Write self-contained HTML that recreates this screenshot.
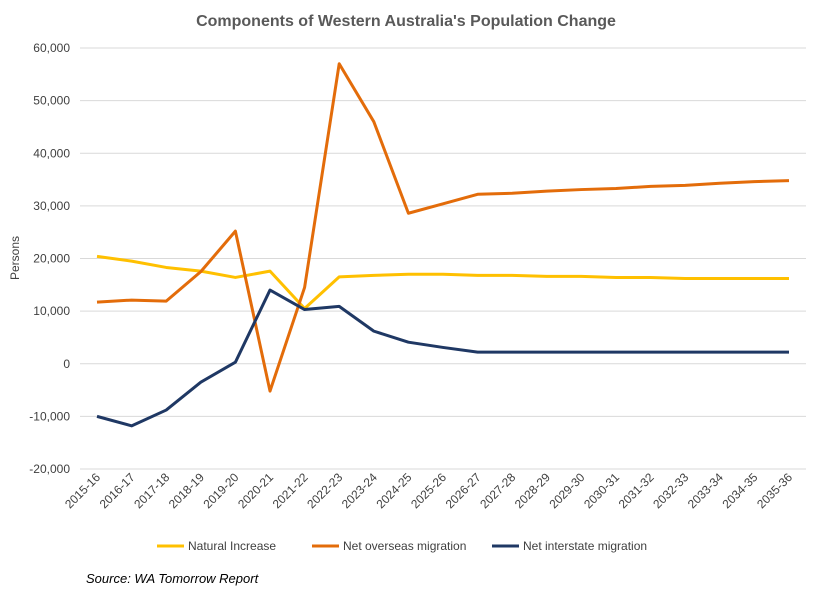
<!DOCTYPE html>
<html><head><meta charset="utf-8"><style>
body{margin:0;background:#fff;font-family:"Liberation Sans",sans-serif;}
</style></head><body>
<svg id="chart" width="813" height="592" xmlns="http://www.w3.org/2000/svg">
<text x="406" y="26" text-anchor="middle" font-size="16" font-weight="bold" fill="#595959">Components of Western Australia's Population Change</text>
<text x="19" y="258" text-anchor="middle" font-size="12" fill="#404040" transform="rotate(-90 19 258)">Persons</text>
<g id="grid"></g><g id="yticks"></g><g id="xticks"></g><g id="series"></g>
<g>
<g><line x1="157" y1="546" x2="184" y2="546" stroke="#FFC000" stroke-width="3"/><text x="188" y="550" font-size="12" fill="#404040">Natural Increase</text></g>
<g><line x1="312" y1="546" x2="339" y2="546" stroke="#E36C0A" stroke-width="3"/><text x="343" y="550" font-size="12" fill="#404040">Net overseas migration</text></g>
<g><line x1="492" y1="546" x2="519" y2="546" stroke="#1F3864" stroke-width="3"/><text x="523" y="550" font-size="12" fill="#404040">Net interstate migration</text></g>
</g>
<text x="86" y="583" font-size="13" font-style="italic" fill="#000">Source: WA Tomorrow Report</text>
</svg>
<script>
const categories=["2015-16","2016-17","2017-18","2018-19","2019-20","2020-21","2021-22","2022-23","2023-24","2024-25","2025-26","2026-27","2027-28","2028-29","2029-30","2030-31","2031-32","2032-33","2033-34","2034-35","2035-36"];
const naturalIncrease=[20400,19500,18300,17600,16400,17600,10500,16500,16800,17000,17000,16800,16800,16600,16600,16400,16400,16200,16200,16200,16200];
const overseas=[11700,12100,11900,17500,25200,-5200,14500,57000,46000,28600,30400,32200,32400,32800,33100,33300,33700,33900,34300,34600,34800];
const interstate=[-10000,-11800,-8800,-3500,300,14000,10300,10900,6200,4100,3100,2200,2200,2200,2200,2200,2200,2200,2200,2200,2200];
const yTicks=[-20000,-10000,0,10000,20000,30000,40000,50000,60000];
const NS="http://www.w3.org/2000/svg";
const L=80,R=806,T=48,B=469,yMin=-20000,yMax=60000;
const x0=97,x1=789;
function xs(i){return x0+(x1-x0)*i/(categories.length-1);}
function ys(v){return B-(v-yMin)/(yMax-yMin)*(B-T);}
function mk(t,a,p){const e=document.createElementNS(NS,t);for(const k in a)e.setAttribute(k,a[k]);p.appendChild(e);return e;}
const grid=document.getElementById('grid'),yt=document.getElementById('yticks'),xt=document.getElementById('xticks'),sg=document.getElementById('series');
yTicks.forEach(v=>{
 const g=mk('line',{x1:L,x2:R,y1:ys(v),y2:ys(v),stroke:v===0?'#d9d9d9':'#d9d9d9','stroke-width':1},grid);
 
 
 const t=mk('text',{x:70,y:ys(v)+4,'text-anchor':'end','font-size':12,fill:'#404040'},yt);
 t.textContent=v.toLocaleString('en-US');
 
 
});
categories.forEach((c,i)=>{
 const x=xs(i);
 const t=mk('text',{x:x+4,y:478,'text-anchor':'end','font-size':12,fill:'#404040',transform:`rotate(-45 ${x+4} 478)`},xt);
 t.textContent=c;
 
 
});
[[naturalIncrease,'#FFC000','natural-increase-line'],[overseas,'#E36C0A','net-overseas-migration-line'],[interstate,'#1F3864','net-interstate-migration-line']].forEach(([d,c,n])=>{
 const p=mk('polyline',{points:d.map((v,i)=>xs(i)+','+ys(v)).join(' '),fill:'none',stroke:c,'stroke-width':3,'stroke-linejoin':'round'},sg);
 
 
});
</script>
</body></html>
